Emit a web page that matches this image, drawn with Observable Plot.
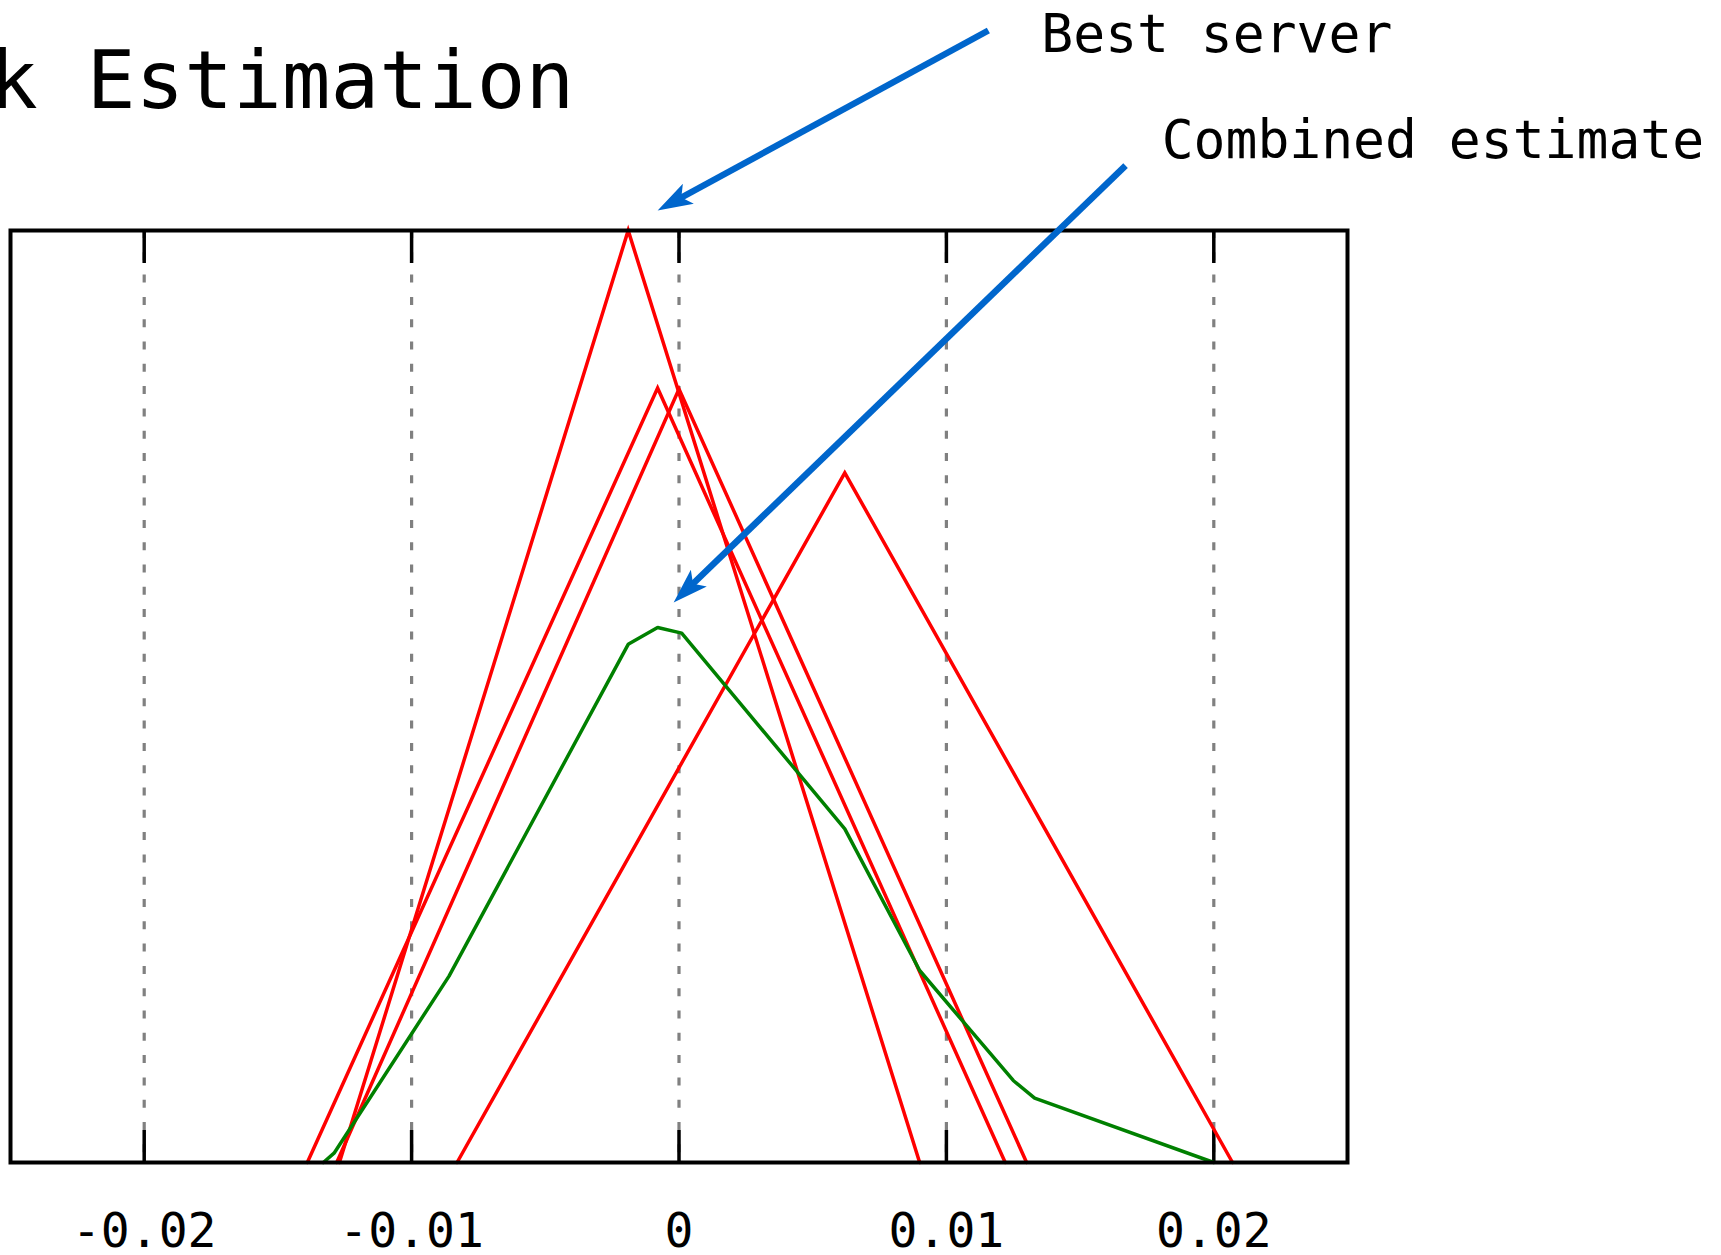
<!DOCTYPE html>
<html><head><meta charset="utf-8">
<script src="https://cdn.jsdelivr.net/npm/d3@7"></script>
<script src="https://cdn.jsdelivr.net/npm/@observablehq/plot@0.6"></script>
<style>html,body{margin:0;padding:0;background:#fff;overflow:hidden}</style>
</head><body><div id="chart"></div>
<script>
// ---- data (offset in seconds, relative likelihood) ----
const tickValues = [-0.02, -0.01, 0, 0.01, 0.02];
const tickLabels = ["-0.02", "-0.01", "0", "0.01", "0.02"];

const server1X = [-0.0127, -0.0019, 0.0090];   // best server
const server1Y = [0, 1.0, 0];
const server2X = [-0.0139, -0.0008, 0.0122];
const server2Y = [0, 0.831, 0];
const server3X = [-0.0128, 0.0000, 0.0130];
const server3Y = [0, 0.830, 0];
const server4X = [-0.0083, 0.0062, 0.0207];
const server4Y = [0, 0.740, 0];

const combinedX = [-0.0133, -0.0129, -0.0086, -0.0019, -0.0008, 0.0001, 0.0062, 0.0090, 0.0125, 0.0133, 0.0200];
const combinedY = [0, 0.010, 0.200, 0.556, 0.574, 0.568, 0.358, 0.206, 0.088, 0.069, 0];

// ---- annotations (data coordinates) ----
const titleText = "k Estimation";
const titleAt = [-0.0258, 1.131];
const noteTexts = ["Best server", "Combined estimate"];
const noteX = [0.01355, 0.01805];
const noteY = [1.1914, 1.0783];
const arrowTailX = [0.01157, 0.01670];
const arrowTailY = [1.2146, 1.0697];
const arrowTipX = [-0.0008, -0.0002];
const arrowTipY = [1.0215, 0.6009];

// ---- layout ----
const W = 1721, H = 1255;
const mL = 10, mR = 374, mT = 230, mB = 93;
const xDomain = [-0.025, 0.025], yDomain = [0, 1];
const font = "DejaVu Sans Mono";
const blue = "#0066cc";

const toRows = (xs, ys, k) => xs.map((x, i) => ({x, y: ys[i], k}));
const servers = [
  ...toRows(server1X, server1Y, "s1"),
  ...toRows(server2X, server2Y, "s2"),
  ...toRows(server3X, server3Y, "s3"),
  ...toRows(server4X, server4Y, "s4")
];
const combined = toRows(combinedX, combinedY, "c");

// pixel helpers to orient the arrowheads
const sx = Plot.scale({x: {domain: xDomain, range: [mL, W - mR]}});
const sy = Plot.scale({y: {domain: yDomain, range: [H - mB, mT]}});
const arrows = arrowTailX.map((_, i) => {
  const x1 = sx.apply(arrowTailX[i]), y1 = sy.apply(arrowTailY[i]);
  const x2 = sx.apply(arrowTipX[i]), y2 = sy.apply(arrowTipY[i]);
  const len = Math.hypot(x2 - x1, y2 - y1);
  const ux = (x2 - x1) / len, uy = (y2 - y1) / len;
  const back = 24;
  return {
    x1: arrowTailX[i], y1: arrowTailY[i],
    x2: sx.invert(x2 - ux * back), y2: sy.invert(y2 - uy * back),
    tx: arrowTipX[i], ty: arrowTipY[i],
    angle: Math.atan2(uy, ux) * 180 / Math.PI
  };
});
const headSymbol = {
  draw(ctx) {
    ctx.moveTo(0, 0);
    ctx.lineTo(-35, -11.5);
    ctx.lineTo(-27, 0);
    ctx.lineTo(-35, 11.5);
    ctx.closePath();
  }
};

const chart = Plot.plot({
  width: W, height: H,
  marginLeft: mL, marginRight: mR, marginTop: mT, marginBottom: mB,
  x: {domain: xDomain, range: [mL, W - mR]},
  y: {domain: yDomain, range: [H - mB, mT], axis: null},
  style: {background: "#fff", fontFamily: font, overflow: "visible"},
  marks: [
    Plot.gridX(tickValues, {stroke: "#808080", strokeOpacity: 1, strokeWidth: 3.2, strokeDasharray: "8,14.3"}),
    Plot.axisX(tickValues, {anchor: "bottom", tickSize: -32, tickFormat: () => "", stroke: "#000", strokeWidth: 3.5}),
    Plot.axisX(tickValues, {anchor: "top", tickSize: -32, tickFormat: () => "", stroke: "#000", strokeWidth: 3.5}),
    Plot.axisX(tickValues, {anchor: "bottom", tickSize: 0, tickPadding: 50,
      tickFormat: d => tickLabels[tickValues.indexOf(d)], fontSize: 48, fontFamily: font, fill: "#000"}),
    Plot.line(servers, {x: "x", y: "y", z: "k", stroke: "#ff0000", strokeWidth: 3.5, strokeLinejoin: "miter", strokeMiterlimit: 10}),
    Plot.line(combined, {x: "x", y: "y", stroke: "#008000", strokeWidth: 3.5, strokeLinejoin: "miter"}),
    Plot.frame({stroke: "#000", strokeWidth: 4}),
    Plot.link(arrows, {x1: "x1", y1: "y1", x2: "x2", y2: "y2", stroke: blue, strokeWidth: 6.5, clip: false}),
    Plot.dot(arrows, {x: "tx", y: "ty", symbol: headSymbol, fill: blue, stroke: "none", rotate: "angle", r: 10, clip: false}),
    Plot.text([titleText], {x: () => titleAt[0], y: () => titleAt[1], text: d => d, textAnchor: "start", lineAnchor: "bottom",
      fontSize: 81, fontFamily: font, fill: "#000"}),
    Plot.text(noteTexts, {x: (d, i) => noteX[i], y: (d, i) => noteY[i], text: d => d, textAnchor: "start", lineAnchor: "bottom",
      fontSize: 53, fontFamily: font, fill: "#000"})
  ]
});
document.getElementById("chart").appendChild(chart);
</script>
</body></html>
